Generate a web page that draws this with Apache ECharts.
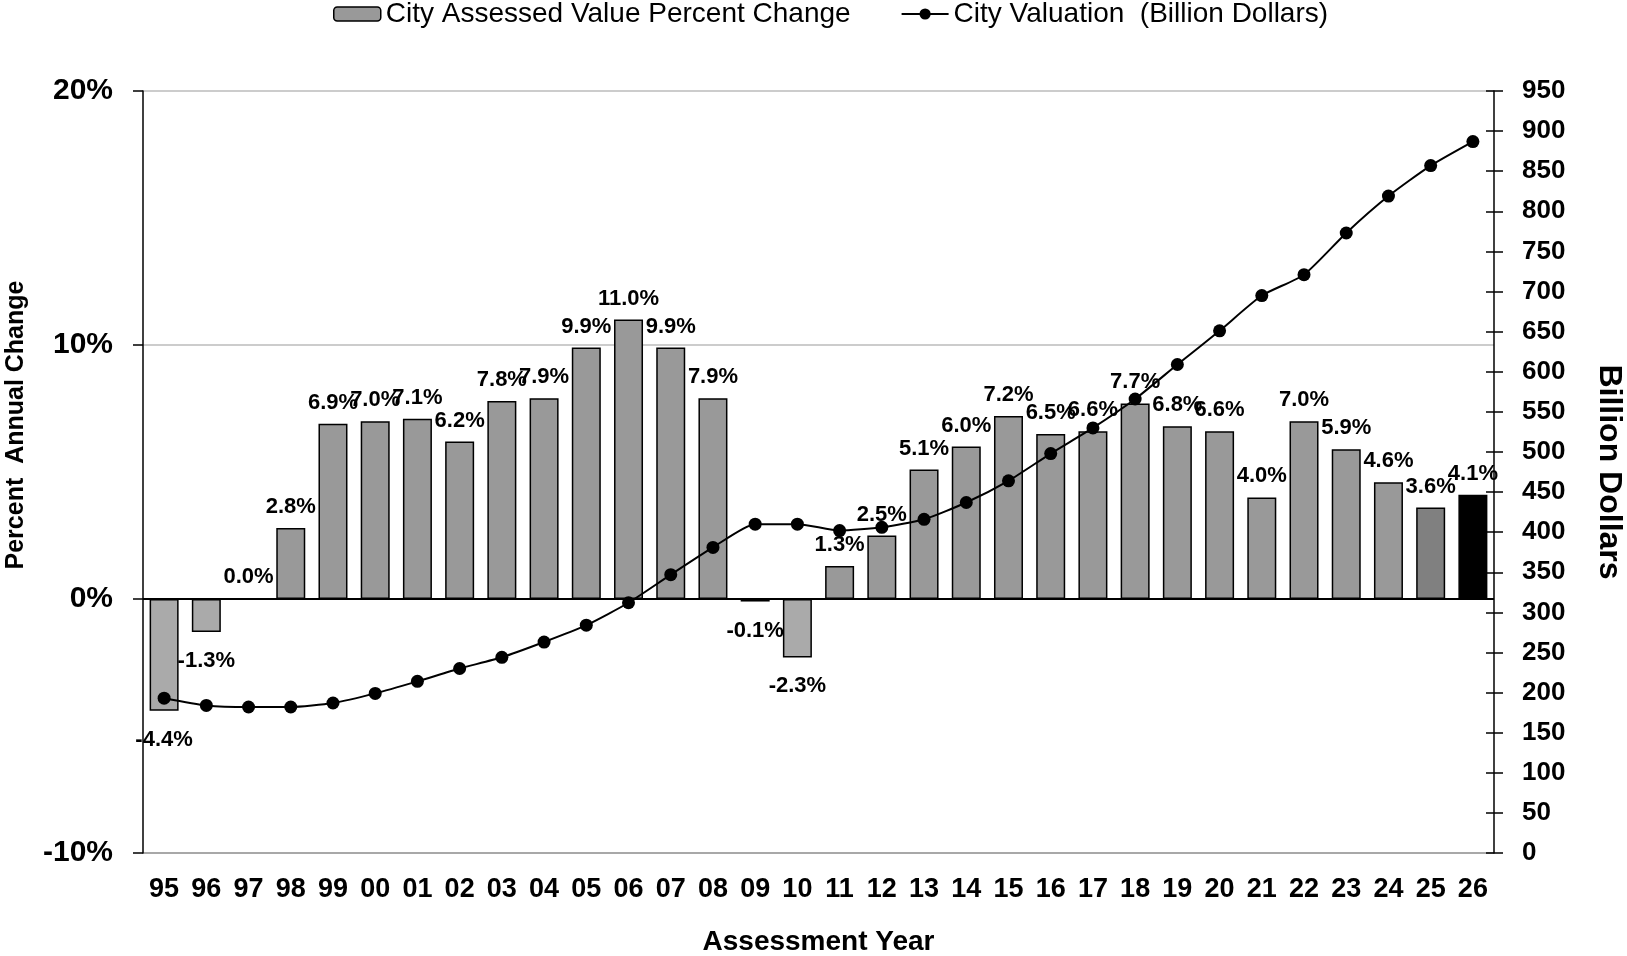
<!DOCTYPE html>
<html>
<head>
<meta charset="utf-8">
<title>City Assessed Value</title>
<script src="https://cdn.jsdelivr.net/npm/echarts@6/dist/echarts.min.js"></script>
<style>
  html, body { margin: 0; padding: 0; background: #fff; }
  #valueChart { width: 1627px; height: 956px; }
</style>
</head>
<body>
<div id="valueChart"></div>
<script>
// assessment years (fiscal), percent change of assessed value, market valuation in billions
const years = ['95', '96', '97', '98', '99', '00', '01', '02', '03', '04', '05', '06', '07', '08', '09', '10',
  '11', '12', '13', '14', '15', '16', '17', '18', '19', '20', '21', '22', '23', '24', '25', '26'];
const percentChange = [-4.4, -1.3, 0.0, 2.8, 6.9, 7.0, 7.1, 6.2, 7.8, 7.9, 9.9, 11.0, 9.9, 7.9, -0.1, -2.3,
  1.3, 2.5, 5.1, 6.0, 7.2, 6.5, 6.6, 7.7, 6.8, 6.6, 4.0, 7.0, 5.9, 4.6, 3.6, 4.1];
const valuation = [193, 184, 182, 182, 187, 199, 214, 230, 244, 263, 284, 312, 347, 381, 410, 410,
  402, 406, 416, 437, 464, 498, 530, 566, 609, 651, 695, 721, 773, 819, 857, 887];

const BAR_NAME = 'City Assessed Value Percent Change';
const LINE_NAME = 'City Valuation  (Billion Dollars)';
const FONT = '"Liberation Sans", Arial, sans-serif';

function barColor(value, index) {
  if (index === percentChange.length - 1) return '#000000';
  if (index === percentChange.length - 2) return '#808080';
  if (value < 0) return '#aaaaaa';
  return '#999999';
}

const barData = percentChange.map(function(v, i) {
  return {
    value: v,
    itemStyle: { color: barColor(v, i) },
    label: v < 0 ? { position: 'bottom', distance: 18 } : { position: 'top', distance: 10 }
  };
});

const chart = echarts.init(document.getElementById('valueChart'), null, { renderer: 'canvas' });

chart.setOption({
  animation: false,
  backgroundColor: '#ffffff',
  textStyle: { fontFamily: FONT, color: '#000' },
  legend: {
    top: 0,
    left: 328,
    padding: [0, 5],
    itemWidth: 47,
    itemHeight: 14,
    itemGap: 50,
    textStyle: { fontFamily: FONT, fontSize: 28, color: '#000' },
    data: [
      { name: BAR_NAME, itemStyle: { color: '#999999', borderColor: '#000', borderWidth: 1.5 } },
      { name: LINE_NAME }
    ]
  },
  grid: {
    left: 143,
    right: 133,
    top: 91,
    bottom: 103,
    outerBoundsMode: 'none'
  },
  xAxis: {
    type: 'category',
    data: years,
    name: 'Assessment Year',
    nameLocation: 'middle',
    nameGap: 75,
    nameTextStyle: { fontFamily: FONT, fontSize: 28, fontWeight: 'bold', color: '#000' },
    axisLine: { show: false },
    axisTick: { show: false },
    axisLabel: { fontFamily: FONT, fontSize: 27, fontWeight: 'bold', color: '#000', margin: 23, interval: 0 },
    splitLine: { show: false }
  },
  yAxis: [
    {
      type: 'value',
      position: 'left',
      min: -10,
      max: 20,
      interval: 10,
      name: 'Percent  Annual Change',
      nameLocation: 'middle',
      nameRotate: 90,
      nameGap: 114,
      nameTextStyle: {
        fontFamily: FONT, fontSize: 25, fontWeight: 'bold', color: '#000',
        padding: [0, 0, 0, 94]
      },
      axisLine: { show: true, lineStyle: { color: '#000', width: 1.5 } },
      axisTick: { show: true, length: 10, lineStyle: { color: '#000', width: 1.5 } },
      axisLabel: { fontFamily: FONT, fontSize: 30, fontWeight: 'bold', color: '#000', margin: 30, formatter: '{value}%' },
      splitLine: {
        show: true,
        lineStyle: { color: ['#a8a8a8', '#000000', '#cccccc', '#cccccc'], width: 1.8 }
      }
    },
    {
      type: 'value',
      position: 'right',
      min: 0,
      max: 950,
      interval: 50,
      name: 'Billion Dollars',
      nameLocation: 'middle',
      nameRotate: -90,
      nameGap: 99,
      nameTextStyle: { fontFamily: FONT, fontSize: 32, fontWeight: 'bold', color: '#000' },
      axisLine: { show: true, lineStyle: { color: '#000', width: 1.5 } },
      axisTick: { show: true, length: 9, lineStyle: { color: '#000', width: 1.5 } },
      axisLabel: { fontFamily: FONT, fontSize: 26, fontWeight: 'bold', color: '#000', margin: 28 },
      splitLine: { show: false }
    },
    {
      // inner half of the crossing ticks on the right axis
      type: 'value',
      position: 'right',
      min: 0,
      max: 950,
      interval: 50,
      axisLine: { show: false },
      axisTick: { show: true, inside: true, length: 8, lineStyle: { color: '#000', width: 1.5 } },
      axisLabel: { show: false },
      splitLine: { show: false }
    }
  ],
  series: [
    {
      name: BAR_NAME,
      type: 'bar',
      yAxisIndex: 0,
      barWidth: 29,
      data: barData,
      itemStyle: { color: '#999999', borderColor: '#000', borderWidth: 1.5 },
      label: {
        show: true,
        fontFamily: FONT,
        fontSize: 22,
        fontWeight: 'bold',
        color: '#000',
        formatter: function(p) {
          return p.value.toFixed(1) + '%';
        }
      },
      z: 2
    },
    {
      name: LINE_NAME,
      type: 'line',
      yAxisIndex: 1,
      data: valuation,
      smooth: 0.2,
      symbol: 'circle',
      symbolSize: 13,
      showSymbol: true,
      itemStyle: { color: '#000' },
      lineStyle: { color: '#000', width: 2 },
      z: 3
    }
  ]
});
</script>
</body>
</html>
